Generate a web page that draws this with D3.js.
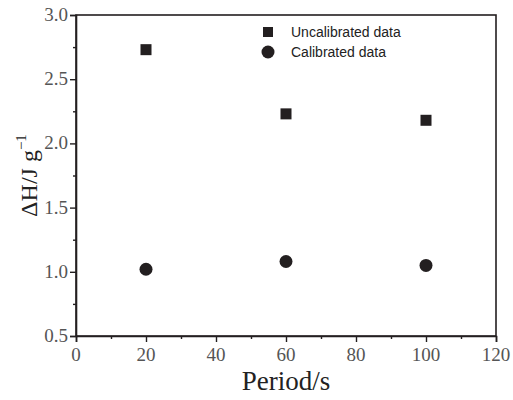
<!DOCTYPE html>
<html>
<head>
<meta charset="utf-8">
<script src="https://cdn.jsdelivr.net/npm/d3@7"></script>
<style>
  html, body { margin: 0; padding: 0; background: #fff; }
  svg { display: block; }
</style>
</head>
<body>
<svg id="chart" width="513" height="400"></svg>
<script>
// Enthalpy change vs. modulation period
const periods = [20, 60, 100];
const uncalibrated = [2.73, 2.23, 2.18];
const calibrated = [1.02, 1.08, 1.05];
const xTicks = [0, 20, 40, 60, 80, 100, 120];
const yTicks = [0.5, 1.0, 1.5, 2.0, 2.5, 3.0];
const seriesNames = ["Uncalibrated data", "Calibrated data"];

const ink = "#231f20";
const svg = d3.select("#chart");
const m = { left: 76, top: 15, right: 17, bottom: 64 };
const W = 513, H = 400;

const x = d3.scaleLinear().domain([0, 120]).range([m.left, W - m.right]);
const y = d3.scaleLinear().domain([0.5, 3.0]).range([H - m.bottom, m.top]);

const serif = "Liberation Serif";
const sans = "Liberation Sans";

// frame
svg.append("rect")
  .attr("x", x(0)).attr("y", y(3.0))
  .attr("width", x(120) - x(0)).attr("height", y(0.5) - y(3.0))
  .attr("fill", "none").attr("stroke", ink).attr("stroke-width", 1.6);

// x axis: major + minor ticks
svg.append("g").attr("transform", `translate(0,${y(0.5)})`)
  .call(d3.axisBottom(x).tickValues(xTicks).tickFormat("").tickSize(6));
svg.append("g").attr("transform", `translate(0,${y(0.5)})`)
  .call(d3.axisBottom(x).tickValues(d3.range(10, 120, 20)).tickFormat("").tickSize(3))
  .call(g => g.select(".domain").remove());

// y axis: major + minor ticks
svg.append("g").attr("transform", `translate(${x(0)},0)`)
  .call(d3.axisLeft(y).tickValues(yTicks).tickFormat("").tickSize(6));
svg.append("g").attr("transform", `translate(${x(0)},0)`)
  .call(d3.axisLeft(y).tickValues(d3.range(0.75, 3.0, 0.5)).tickFormat("").tickSize(3))
  .call(g => g.select(".domain").remove());

svg.selectAll(".domain").attr("stroke", ink).attr("stroke-width", 1.6);
svg.selectAll(".tick line").attr("stroke", ink).attr("stroke-width", 1.4);

// tick labels
svg.append("g").selectAll("text").data(xTicks).join("text")
  .attr("x", d => x(d)).attr("y", y(0.5) + 25)
  .attr("text-anchor", "middle")
  .style("font-family", serif).style("font-size", "19px").attr("fill", "#555")
  .text(d3.format("d"));
svg.append("g").selectAll("text").data(yTicks).join("text")
  .attr("x", x(0) - 8).attr("y", d => y(d) + 6)
  .attr("text-anchor", "end")
  .style("font-family", serif).style("font-size", "19px").attr("fill", "#555")
  .text(d3.format(".1f"));

// axis titles
svg.append("text")
  .attr("x", (x(0) + x(120)) / 2).attr("y", 390)
  .attr("text-anchor", "middle")
  .style("font-family", serif).style("font-size", "27px").attr("fill", "#222")
  .text("Period/s");

const yt = svg.append("text")
  .attr("transform", `translate(37,${(y(0.5) + y(3.0)) / 2}) rotate(-90)`)
  .attr("text-anchor", "middle")
  .style("font-family", serif).style("font-size", "24px").attr("fill", "#222");
yt.append("tspan").text("ΔH/J g");
yt.append("tspan").attr("dy", -11).style("font-size", "15px").text("−1");

// data marks
const sq = 11;
svg.append("g").selectAll("rect")
  .data(periods.map((p, i) => [p, uncalibrated[i]]))
  .join("rect")
  .attr("x", d => x(d[0]) - sq / 2).attr("y", d => y(d[1]) - sq / 2)
  .attr("width", sq).attr("height", sq).attr("fill", ink);

svg.append("g").selectAll("circle")
  .data(periods.map((p, i) => [p, calibrated[i]]))
  .join("circle")
  .attr("cx", d => x(d[0])).attr("cy", d => y(d[1]))
  .attr("r", 6.5).attr("fill", ink);

// legend
const lg = svg.append("g");
lg.append("rect").attr("x", 263).attr("y", 27).attr("width", 10).attr("height", 10).attr("fill", ink);
lg.append("circle").attr("cx", 268).attr("cy", 52).attr("r", 6.5).attr("fill", ink);
lg.selectAll("text").data(seriesNames).join("text")
  .attr("x", 291).attr("y", (d, i) => 37 + i * 20)
  .style("font-family", sans).style("font-size", "14px").attr("fill", "#222")
  .text(d => d);
</script>
</body>
</html>
